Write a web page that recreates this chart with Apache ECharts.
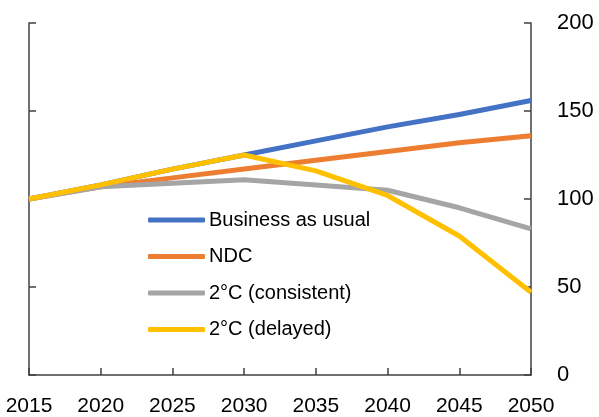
<!DOCTYPE html>
<html>
<head>
<meta charset="utf-8">
<script src="https://cdn.jsdelivr.net/npm/echarts@6/dist/echarts.min.js"></script>
<style>
  html, body { margin: 0; padding: 0; background: #fff; }
  #chart { width: 599px; height: 417px; }
</style>
</head>
<body>
<div id="chart"></div>
<script>
// 数据
const years = ["2015", "2020", "2025", "2030", "2035", "2040", "2045", "2050"];
const businessAsUsual = [100, 108, 117, 125, 133, 141, 148, 156];
const ndc = [100, 107, 112, 117, 122, 127, 132, 136];
const consistent2C = [100, 107, 109, 111, 108, 105, 95, 83];
const delayed2C = [100, 108, 117, 125, 116, 102, 79, 47];

const axisColor = "#404040";
const font = "Liberation Sans, Arial, sans-serif";

const chart = echarts.init(document.getElementById("chart"));

const lineSeries = (name, data, color) => ({
  name: name,
  type: "line",
  data: data,
  symbol: "none",
  yAxisIndex: 0,
  lineStyle: { width: 5, color: color },
  itemStyle: { color: color },
});

const option = {
  animation: false,
  grid: { left: 29, right: 68, top: 23, bottom: 40 },
  legend: {
    orient: "vertical",
    left: 148,
    top: 210,
    padding: 0,
    icon: "roundRect",
    itemWidth: 57,
    itemHeight: 5,
    itemGap: 16.5,
    textStyle: { fontSize: 20, color: "#000", fontFamily: font, padding: [0, 0, 0, -1] },
    data: ["Business as usual", "NDC", "2°C (consistent)", "2°C (delayed)"],
  },
  xAxis: {
    type: "category",
    data: years,
    boundaryGap: false,
    axisLine: { lineStyle: { color: axisColor, width: 1.5 } },
    axisTick: { inside: true, length: 7, lineStyle: { color: axisColor, width: 1.5 } },
    axisLabel: { fontSize: 21, color: "#000", fontFamily: font, margin: 21 },
  },
  yAxis: [
    {
      type: "value",
      position: "right",
      min: 0,
      max: 200,
      interval: 50,
      splitLine: { show: false },
      axisLine: { show: true, lineStyle: { color: axisColor, width: 1.5 } },
      axisTick: { show: true, inside: true, length: 7, lineStyle: { color: axisColor, width: 1.5 } },
      axisLabel: { fontSize: 22, color: "#000", fontFamily: font, margin: 26 },
    },
    {
      type: "value",
      position: "left",
      min: 0,
      max: 200,
      interval: 50,
      splitLine: { show: false },
      axisLine: { show: true, lineStyle: { color: axisColor, width: 1.5 } },
      axisTick: { show: true, inside: true, length: 7, lineStyle: { color: axisColor, width: 1.5 } },
      axisLabel: { show: false },
    },
  ],
  series: [
    lineSeries("Business as usual", businessAsUsual, "#4472C4"),
    lineSeries("NDC", ndc, "#ED7D31"),
    lineSeries("2°C (consistent)", consistent2C, "#A5A5A5"),
    lineSeries("2°C (delayed)", delayed2C, "#FFC000"),
  ],
};

chart.setOption(option);
</script>
</body>
</html>
